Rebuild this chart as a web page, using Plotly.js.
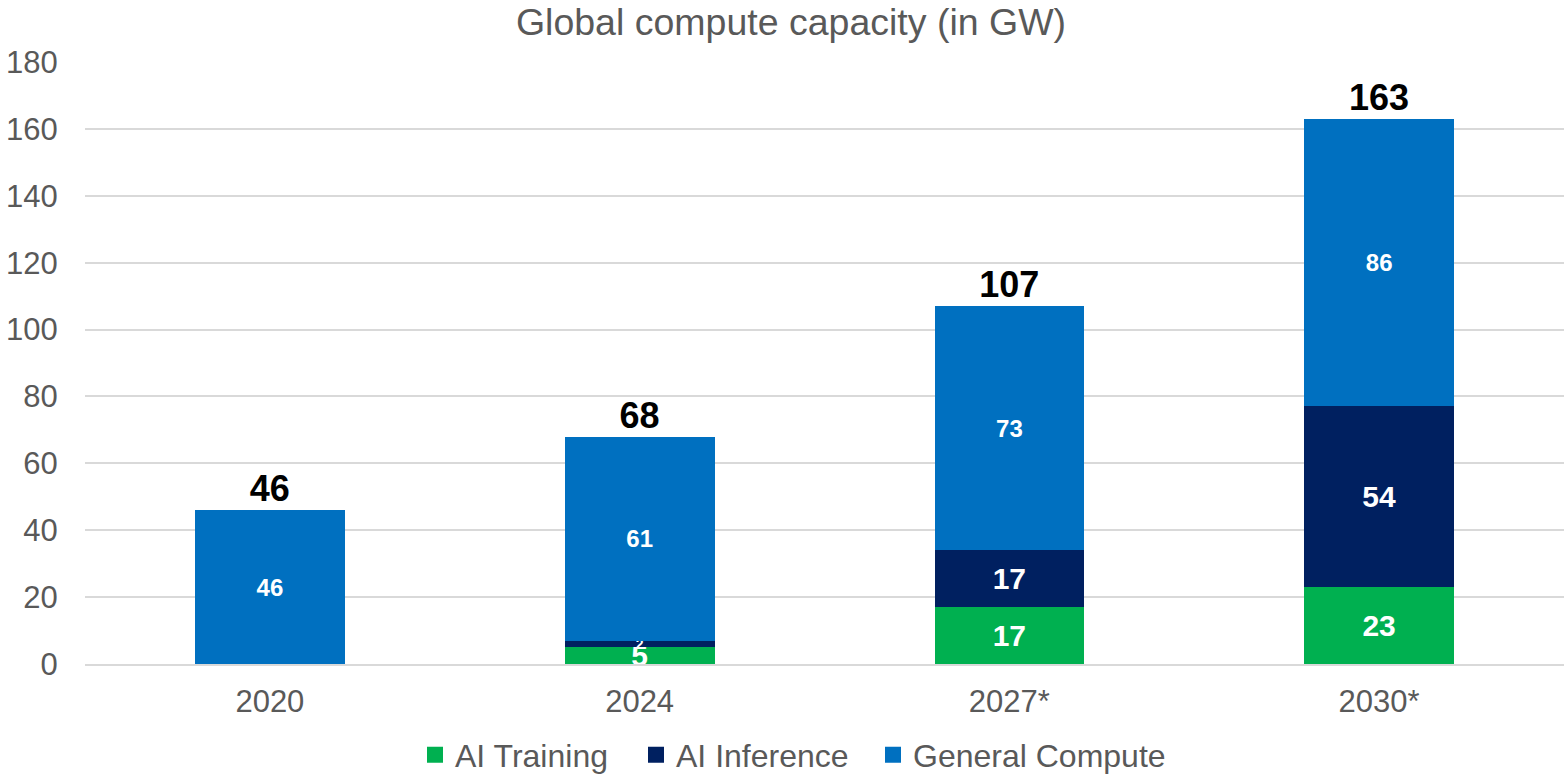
<!DOCTYPE html>
<html>
<head>
<meta charset="utf-8">
<script src="https://cdn.plot.ly/plotly-3.0.1.min.js"></script>
<style>
    html, body { margin: 0; padding: 0; background: #fff; }
    #chart { width: 1564px; height: 775px; }
</style>
</head>
<body>
<div id="chart"></div>
<script>
const YEARS = ["2020", "2024", "2027*", "2030*"];
const AI_TRAINING = [0, 5, 17, 23];
const AI_INFERENCE = [0, 2, 17, 54];
const GENERAL_COMPUTE = [46, 61, 73, 86];
const Y_TICKS = [0, 20, 40, 60, 80, 100, 120, 140, 160, 180];

const SERIES = [
    { name: "AI Training", values: AI_TRAINING, color: "#00b050", sizes: 30, legend: "legend" },
    { name: "AI Inference", values: AI_INFERENCE, color: "#002060", sizes: [30, 14, 30, 30], legend: "legend" },
    { name: "General Compute", values: GENERAL_COMPUTE, color: "#0070c0", sizes: 24, legend: "legend2" },
];

const FONT = "Liberation Sans, Arial, sans-serif";
const GREY = "#595959";

const labels = (values) => values.map(v => v > 0 ? String(v) : "");
const totals = YEARS.map((_, i) => AI_TRAINING[i] + AI_INFERENCE[i] + GENERAL_COMPUTE[i]);

const data = [];

// stacked bars, legend is drawn by the square-marker proxies below
for (const s of SERIES) {
    data.push({
        type: "bar",
        name: s.name,
        x: YEARS,
        y: s.values,
        text: labels(s.values),
        textposition: "inside",
        insidetextanchor: "middle",
        constraintext: "none",
        textangle: 0,
        textfont: { family: FONT, color: "#ffffff", size: s.sizes, weight: "bold" },
        marker: { color: s.color, line: { width: 0 } },
        legendgroup: s.name,
        showlegend: false,
        hoverinfo: "name+y",
    });
}

for (const s of SERIES) {
    data.push({
        type: "scatter",
        mode: "markers",
        name: s.name,
        x: [null],
        y: [null],
        marker: { symbol: "square", size: 17, color: s.color },
        legendgroup: s.name,
        legend: s.legend,
        showlegend: true,
        hoverinfo: "skip",
    });
}

// totals on top of each stack
data.push({
    type: "scatter",
    mode: "text",
    x: YEARS,
    y: totals,
    text: totals.map(String),
    textposition: "top center",
    textfont: { family: FONT, color: "#000000", size: 36, weight: "bold" },
    cliponaxis: false,
    showlegend: false,
    hoverinfo: "skip",
});

const legendBase = {
    orientation: "h",
    xref: "container",
    xanchor: "left",
    yref: "container",
    y: 20 / 775,
    yanchor: "middle",
    bgcolor: "rgba(0,0,0,0)",
    font: { family: FONT, color: GREY, size: 32 },
    traceorder: "normal",
    itemwidth: 30,
};

const layout = {
    width: 1564,
    height: 775,
    barmode: "stack",
    bargap: 0.595,
    margin: { l: 85, r: 0, t: 62, b: 111 },
    paper_bgcolor: "#ffffff",
    plot_bgcolor: "#ffffff",
    font: { family: FONT, color: GREY, size: 31 },
    title: {
        text: "Global compute capacity (in GW)",
        font: { family: FONT, color: GREY, size: 37.5 },
        xref: "container",
        x: 791 / 1564,
        xanchor: "center",
        yref: "container",
        y: 1 - 22 / 775,
        yanchor: "middle",
    },
    xaxis: {
        type: "category",
        showgrid: false,
        showline: true,
        linecolor: "#d9d9d9",
        linewidth: 2,
        ticks: "outside",
        ticklen: 9,
        tickcolor: "rgba(0,0,0,0)",
        tickfont: { family: FONT, color: GREY, size: 31 },
    },
    yaxis: {
        range: [0, 180],
        tickvals: Y_TICKS,
        showgrid: true,
        gridcolor: "#d9d9d9",
        gridwidth: 2,
        zeroline: false,
        showline: false,
        ticks: "outside",
        ticklen: 20,
        tickcolor: "rgba(0,0,0,0)",
        tickfont: { family: FONT, color: GREY, size: 31 },
        fixedrange: true,
    },
    showlegend: true,
    legend: Object.assign({}, legendBase, {
        x: 415 / 1564,
        entrywidth: 176,
        entrywidthmode: "pixels",
    }),
    legend2: Object.assign({}, legendBase, {
        x: 873 / 1564,
    }),
};

Plotly.newPlot("chart", data, layout, { displayModeBar: false });
</script>
</body>
</html>
